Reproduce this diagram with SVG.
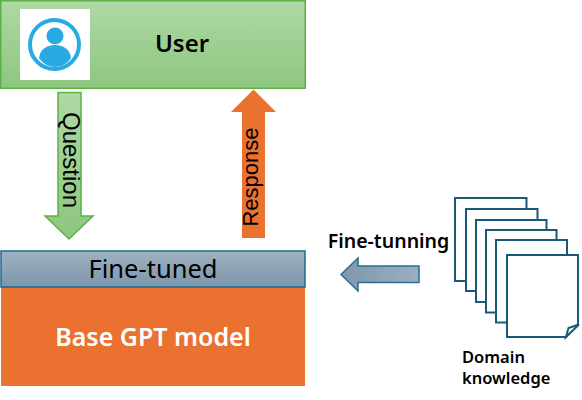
<svg xmlns="http://www.w3.org/2000/svg" width="582" height="400" viewBox="0 0 582 400">
<style>
text{font-family:"Noto Sans","Open Sans","Liberation Sans",sans-serif;fill:#000}
text.arial{font-family:"Liberation Sans",Arial,sans-serif}
.page{fill:#fff;stroke:#1a5a78;stroke-width:2}
.b{font-weight:600}
</style>
<defs>
<linearGradient id="green" x1="0" y1="0" x2="0" y2="1"><stop offset="0" stop-color="#aed8a4"/><stop offset="1" stop-color="#8dc67f"/></linearGradient>
<linearGradient id="blue" x1="0" y1="0" x2="0" y2="1"><stop offset="0" stop-color="#a0b2c2"/><stop offset="1" stop-color="#7c96ab"/></linearGradient>
<linearGradient id="blueh" x1="0" y1="0" x2="1" y2="0"><stop offset="0" stop-color="#7d97ad"/><stop offset="1" stop-color="#9cafc0"/></linearGradient>
</defs>
<g id="connectors">
<path id="question-arrow" d="M58 92.500H81V216H93L69 239L45 216H58Z" fill="url(#green)" stroke="#5cb145" stroke-width="1.500"/>
<path id="response-arrow" d="M253.500 89.500L276 112H265V238H242V112H231Z" fill="#eb7131"/>
<path id="fine-tunning-arrow" d="M341 274.500L358 258V266H419V282.500H358V291Z" fill="url(#blueh)" stroke="#2b6f92" stroke-width="1.500"/>
</g>
<g id="user">
<rect x="0.750" y="0.750" width="304.500" height="87.500" fill="url(#green)" stroke="#5cb145" stroke-width="1.500"/>
<rect x="20" y="9" width="70" height="71" fill="#fff"/>
<circle cx="54.500" cy="44.500" r="24.500" fill="#fff" stroke="#29abe2" stroke-width="4"/>
<circle cx="55" cy="36" r="8.500" fill="#29abe2"/>
<path d="M39 58C40 50 46 45 55 45C64 45 70 50 71 58C67 64 61 67 55 67C49 67 43 64 39 58Z" fill="#29abe2"/>
<text class="b" x="182" y="52" font-size="24" text-anchor="middle">User</text>
</g>
<g id="base-model">
<rect x="1" y="287" width="304" height="99" fill="#eb7131"/>
<text class="b" x="153" y="346" font-size="25" text-anchor="middle" style="fill:#fff">Base GPT model</text>
</g>
<g id="fine-tuned">
<rect x="1" y="251" width="304" height="36" fill="url(#blue)" stroke="#1f6a8e" stroke-width="1.500"/>
<text x="153" y="278" font-size="25.500" text-anchor="middle">Fine-tuned</text>
</g>
<g id="question-label"><text class="arial" transform="translate(62.500 160) rotate(90)" font-size="24" text-anchor="middle">Question</text></g>
<g id="response-label"><text class="arial" transform="translate(258 177) rotate(-90)" font-size="22" text-anchor="middle">Response</text></g>
<g id="fine-tunning-label"><text class="b" x="388.500" y="248" font-size="19.500" text-anchor="middle">Fine-tunning</text></g>
<g id="domain-knowledge">
<rect class="page" x="455" y="198" width="71.500" height="83"/>
<rect class="page" x="466" y="209" width="71.500" height="82"/>
<rect class="page" x="476" y="220" width="70.500" height="82"/>
<rect class="page" x="486" y="230" width="70.500" height="82.500"/>
<rect class="page" x="496" y="240" width="71" height="82.500"/>
<path class="page" d="M507 255H578V324L566 337H507Z"/>
<path d="M566 337L568.500 328L579 324.500Z" fill="#fff" stroke="#1a5a78" stroke-width="2"/>
<text class="b" x="462" y="363" font-size="16.500">Domain</text>
<text class="b" x="462" y="384" font-size="16.500">knowledge</text>
</g>
</svg>
